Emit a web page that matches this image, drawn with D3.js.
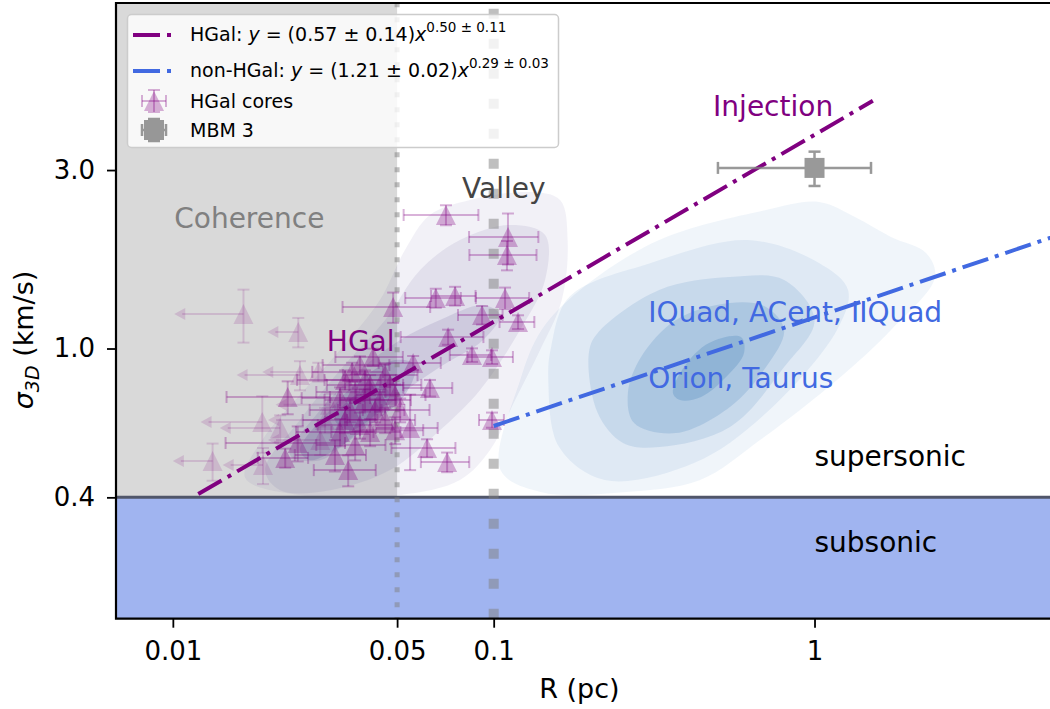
<!DOCTYPE html>
<html>
<head>
<meta charset="utf-8">
<script src="https://cdn.jsdelivr.net/npm/d3@7"></script>
<style>
  html, body { margin: 0; padding: 0; background: #fff; }
  svg { display: block; font-family: "DejaVu Sans", sans-serif; }
  text { white-space: pre; }
</style>
</head>
<body>
<svg id="chart" width="1050" height="709"></svg>
<script>
// ---- axis ticks ----
const xTickValues = [0.01, 0.05, 0.1, 1];
const xTickLabels = ["0.01", "0.05", "0.1", "1"];
const yTickValues = [0.4, 1.0, 3.0];
const yTickLabels = ["0.4", "1.0", "3.0"];

// ---- reference scales (pc, km/s) ----
const coherenceRadius = 0.05;
const valleyRadius = 0.1;
const sonicSigma = 0.4;

// ---- power-law fits: sigma = A (R / R0)^p ; [A, dA, p, dp] ----
const hgalFit = [0.57, 0.14, 0.50, 0.11];
const hgalFitR0 = 0.0234;
const hgalFitRange = [0.012, 1.52];
const nonHgalFit = [1.21, 0.02, 0.29, 0.03];
const nonHgalFitR0 = 1;
const nonHgalFitRange = [0.1, 6];

// ---- HGal cores: [R (pc), dR, sigma (km/s), dSigma, R is upper limit] ----
const hgalCores = [
  [0.0166, 0.0065, 1.237, 0.20, 1],
  [0.0246, 0.0049, 1.107, 0.10, 1],
  [0.0249, 0.0091, 0.849, 0.076, 1],
  [0.0284, 0.0094, 0.866, 0.05, 1],
  [0.0228, 0.0081, 0.742, 0.075, 0],
  [0.0190, 0.0068, 0.636, 0.11, 1],
  [0.0216, 0.0076, 0.613, 0.05, 1],
  [0.0133, 0.0033, 0.500, 0.057, 1],
  [0.0191, 0.0048, 0.488, 0.054, 1],
  [0.0245, 0.0099, 0.559, 0.06, 0],
  [0.0224, 0.0040, 0.510, 0.03, 0],
  [0.0352, 0.0077, 0.473, 0.045, 0],
  [0.0710, 0.0186, 2.275, 0.14, 0],
  [0.1108, 0.0270, 1.987, 0.31, 0],
  [0.1100, 0.0260, 1.778, 0.16, 0],
  [0.0660, 0.0130, 1.365, 0.08, 0],
  [0.0758, 0.0120, 1.382, 0.08, 0],
  [0.1085, 0.0205, 1.365, 0.09, 0],
  [0.0486, 0.0148, 1.291, 0.12, 0],
  [0.0920, 0.0146, 1.229, 0.07, 0],
  [0.1191, 0.0148, 1.177, 0.05, 0],
  [0.0721, 0.0208, 1.073, 0.05, 0],
  [0.0856, 0.0126, 0.961, 0.04, 0],
  [0.0988, 0.0160, 0.949, 0.04, 0],
  [0.0633, 0.0110, 0.784, 0.04, 0],
  [0.0561, 0.0123, 0.915, 0.04, 0],
  [0.0988, 0.0088, 0.644, 0.03, 0],
  [0.0549, 0.0120, 0.613, 0.14, 0],
  [0.0620, 0.0140, 0.542, 0.03, 0],
  [0.0716, 0.0123, 0.497, 0.03, 0],
  [0.0421, 0.0100, 0.949, 0.05, 0],
  [0.0383, 0.0090, 0.903, 0.05, 0],
  [0.0344, 0.0100, 0.824, 0.05, 0],
  [0.0459, 0.0120, 0.849, 0.06, 0],
  [0.0412, 0.0110, 0.799, 0.05, 0],
  [0.0370, 0.0090, 0.765, 0.05, 0],
  [0.0332, 0.0080, 0.737, 0.05, 0],
  [0.0309, 0.0100, 0.707, 0.05, 1],
  [0.0397, 0.0100, 0.728, 0.05, 0],
  [0.0442, 0.0110, 0.728, 0.05, 0],
  [0.0493, 0.0120, 0.751, 0.05, 0],
  [0.0357, 0.0090, 0.685, 0.05, 0],
  [0.0427, 0.0100, 0.685, 0.05, 0],
  [0.0344, 0.0090, 0.644, 0.05, 0],
  [0.0383, 0.0100, 0.624, 0.05, 0],
  [0.0459, 0.0110, 0.644, 0.05, 0],
  [0.0298, 0.0100, 0.644, 0.05, 1],
  [0.0332, 0.0090, 0.598, 0.05, 0],
  [0.0412, 0.0100, 0.598, 0.05, 0],
  [0.0493, 0.0110, 0.605, 0.05, 0],
  [0.0370, 0.0090, 0.552, 0.05, 0],
  [0.0288, 0.0090, 0.569, 0.05, 1],
  [0.0320, 0.0080, 0.519, 0.05, 0],
  [0.0397, 0.0100, 0.824, 0.05, 0],
  [0.0475, 0.0120, 0.799, 0.05, 0],
  [0.0362, 0.0090, 0.866, 0.05, 0],
  [0.0511, 0.0120, 0.685, 0.05, 0]
];

// ---- MBM 3: [R, dR, sigma, dSigma] ----
const mbm3 = [1.0, 0.5, 3.04, 0.32];

// ---- density contours (outer to inner), vertices [R, sigma] ----
const hgalContours = [
  [[0.0168,0.451],[0.0190,0.569],[0.0249,0.751],[0.0332,0.991],[0.0442,1.348],[0.0529,1.834],[0.0633,2.275],[0.0844,2.495],[0.1298,2.620],[0.161,2.495],[0.170,1.950],[0.163,1.348],[0.1395,0.991],[0.1166,0.728],[0.0974,0.535],[0.0785,0.445],[0.0511,0.406],[0.0249,0.406]],
  [[0.0194,0.473],[0.0249,0.644],[0.0332,0.876],[0.0459,1.192],[0.0590,1.622],[0.0785,1.950],[0.1125,2.139],[0.1446,2.012],[0.1446,1.525],[0.1208,1.121],[0.0907,0.775],[0.0680,0.605],[0.0475,0.473],[0.0309,0.418],[0.0216,0.418]],
  [[0.0232,0.519],[0.0288,0.685],[0.0383,0.876],[0.0511,1.054],[0.0680,1.192],[0.0927,1.307],[0.1046,1.229],[0.0927,1.054],[0.0680,0.892],[0.0511,0.751],[0.0383,0.605],[0.0288,0.503]],
  [[0.0249,0.535],[0.0309,0.685],[0.0383,0.824],[0.0493,0.932],[0.0569,0.903],[0.0529,0.751],[0.0412,0.624],[0.0320,0.535],[0.0268,0.503]],
  [[0.0320,0.644],[0.0370,0.751],[0.0442,0.799],[0.0475,0.751],[0.0427,0.664],[0.0357,0.605]]
];
const hgalContourOpacity = [0.08, 0.10, 0.15, 0.2, 0.24];

const nonHgalContours = [
  [[0.105,0.473],[0.121,0.824],[0.141,1.121],[0.186,1.434],[0.328,1.950],[0.706,2.346],[1.033,2.465],[1.337,2.247],[1.731,1.987],[2.226,1.800],[2.375,1.553],[1.731,1.121],[1.175,0.824],[0.676,0.569],[0.440,0.445],[0.253,0.413],[0.141,0.413]],
  [[0.151,1.009],[0.172,1.373],[0.309,1.693],[0.620,1.950],[1.033,1.693],[1.272,1.434],[1.175,1.121],[0.706,0.672],[0.421,0.494],[0.222,0.445],[0.160,0.545],[0.148,0.824]],
  [[0.198,0.973],[0.211,1.100],[0.328,1.434],[0.545,1.553],[0.804,1.525],[1.0,1.192],[0.804,0.892],[0.545,0.617],[0.328,0.545],[0.253,0.559],[0.211,0.672]],
  [[0.262,0.760],[0.288,0.949],[0.370,1.192],[0.545,1.323],[0.706,1.291],[0.804,1.121],[0.706,0.892],[0.545,0.698],[0.370,0.594],[0.274,0.632]],
  [[0.362,0.760],[0.392,0.892],[0.469,1.034],[0.590,1.073],[0.603,0.973],[0.530,0.839],[0.443,0.742],[0.381,0.728]]
];
const nonHgalContourOpacity = [0.075, 0.09, 0.14, 0.19, 0.25];

// ---- annotation labels: [text, R, sigma, colour] ----
const annotations = [
  ["Coherence", 0.0101, 2.10, "#808080"],
  ["Valley", 0.0797, 2.53, "#444444"],
  ["Injection", 0.483, 4.18, "#800080"],
  ["HGal", 0.0302, 0.985, "#800080"],
  ["IQuad, ACent, IIQuad", 0.303, 1.177, "#4169e1"],
  ["Orion, Taurus", 0.303, 0.784, "#4169e1"],
  ["supersonic", 1.0, 0.485, "#000000"],
  ["subsonic", 1.0, 0.286, "#000000"]
];

// ================= drawing =================
const PURPLE = "#800080", BLUE = "#4169e1";
const plot = { left: 116, right: 1062, top: 3, bottom: 618.7 };

const x = d3.scaleLog().domain([0.00665, 5.907]).range([plot.left, plot.right]);
const y = d3.scaleLog().domain([0.1895, 8.39]).range([plot.bottom, plot.top]);

const svg = d3.select("#chart");
svg.append("defs").append("clipPath").attr("id", "plotClip")
  .append("rect")
  .attr("x", plot.left).attr("y", plot.top)
  .attr("width", plot.right - plot.left).attr("height", plot.bottom - plot.top);

const g = svg.append("g").attr("clip-path", "url(#plotClip)");

// coherence zone
g.append("rect")
  .attr("x", plot.left).attr("y", plot.top)
  .attr("width", x(coherenceRadius) - plot.left)
  .attr("height", y(sonicSigma) - plot.top)
  .attr("fill", "#808080").attr("fill-opacity", 0.3);

// density contours
const contourLine = d3.line()
  .x(d => x(d[0])).y(d => y(d[1]))
  .curve(d3.curveCatmullRomClosed.alpha(0.5));

g.append("g").selectAll("path").data(hgalContours).join("path")
  .attr("d", contourLine)
  .attr("fill", "#5c5096")
  .attr("fill-opacity", (d, i) => hgalContourOpacity[i]);

g.append("g").selectAll("path").data(nonHgalContours).join("path")
  .attr("d", contourLine)
  .attr("fill", "#3a7ab8")
  .attr("fill-opacity", (d, i) => nonHgalContourOpacity[i]);

// subsonic band
g.append("rect")
  .attr("x", plot.left).attr("y", y(sonicSigma))
  .attr("width", plot.right - plot.left)
  .attr("height", plot.bottom - y(sonicSigma))
  .attr("fill", BLUE).attr("fill-opacity", 0.5);

// sonic line
g.append("line")
  .attr("x1", plot.left).attr("x2", plot.right)
  .attr("y1", y(sonicSigma)).attr("y2", y(sonicSigma))
  .attr("stroke", "#50566a").attr("stroke-width", 3);

// coherence (dotted) and valley (thick dotted) radii
g.append("line")
  .attr("x1", x(coherenceRadius)).attr("x2", x(coherenceRadius))
  .attr("y1", plot.bottom + 3.5).attr("y2", plot.top)
  .attr("stroke", "#808080").attr("stroke-opacity", 0.5)
  .attr("stroke-width", 5).attr("stroke-dasharray", "5 10");

g.append("line")
  .attr("x1", x(valleyRadius)).attr("x2", x(valleyRadius))
  .attr("y1", plot.bottom).attr("y2", plot.top)
  .attr("stroke", "#808080").attr("stroke-opacity", 0.5)
  .attr("stroke-width", 10).attr("stroke-dasharray", "10 20");

// HGal cores with error bars
const MS = 10, CAP = 6;
const triPath = (cx, cy) => `M${cx},${cy - MS}L${cx + MS},${cy + MS}L${cx - MS},${cy + MS}Z`;

const coresG = g.append("g");
hgalCores.forEach(([R, dR, s, ds, ul]) => {
  const op = ul ? 0.15 : 0.3;
  const cx = x(R), cy = y(s);
  const c = coresG.append("g");
  const stroke = el => el.attr("stroke", PURPLE).attr("stroke-opacity", op).attr("stroke-width", 2).attr("fill", "none");
  // vertical bar with caps
  const yt = y(s + ds), yb = y(s - ds);
  stroke(c.append("line").attr("x1", cx).attr("x2", cx).attr("y1", yt).attr("y2", yb));
  stroke(c.append("line").attr("x1", cx - CAP).attr("x2", cx + CAP).attr("y1", yt).attr("y2", yt));
  stroke(c.append("line").attr("x1", cx - CAP).attr("x2", cx + CAP).attr("y1", yb).attr("y2", yb));
  if (ul) {
    const xl = x(R - dR);
    stroke(c.append("line").attr("x1", cx).attr("x2", xl + 8).attr("y1", cy).attr("y2", cy));
    c.append("path")
      .attr("d", `M${xl},${cy}L${xl + 11},${cy - 6}L${xl + 11},${cy + 6}Z`)
      .attr("fill", PURPLE).attr("fill-opacity", op);
  } else {
    const xl = x(R - dR), xr = x(R + dR);
    stroke(c.append("line").attr("x1", xl).attr("x2", xr).attr("y1", cy).attr("y2", cy));
    stroke(c.append("line").attr("x1", xl).attr("x2", xl).attr("y1", cy - CAP).attr("y2", cy + CAP));
    stroke(c.append("line").attr("x1", xr).attr("x2", xr).attr("y1", cy - CAP).attr("y2", cy + CAP));
  }
  c.append("path").attr("d", triPath(cx, cy))
    .attr("fill", PURPLE).attr("fill-opacity", op);
});

// power-law fit lines
const fitLine = d3.line().x(d => x(d[0])).y(d => y(d[1]));
function fitPoints(fit, r0, range) {
  return range.map(R => [R, fit[0] * Math.pow(R / r0, fit[2])]);
}
const DASHDOT = "27 7 4 7";
g.append("path").attr("d", fitLine(fitPoints(hgalFit, hgalFitR0, hgalFitRange)))
  .attr("fill", "none").attr("stroke", PURPLE).attr("stroke-width", 4)
  .attr("stroke-dasharray", DASHDOT);
g.append("path").attr("d", fitLine(fitPoints(nonHgalFit, nonHgalFitR0, nonHgalFitRange)))
  .attr("fill", "none").attr("stroke", BLUE).attr("stroke-width", 4)
  .attr("stroke-dasharray", DASHDOT);

// MBM 3
function drawSquareMarker(parent, cx, cy, xl, xr, yt, yb) {
  const m = parent.append("g").attr("opacity", 0.8);
  const st = el => el.attr("stroke", "#808080").attr("stroke-width", 2.5);
  st(m.append("line").attr("x1", xl).attr("x2", xr).attr("y1", cy).attr("y2", cy));
  st(m.append("line").attr("x1", xl).attr("x2", xl).attr("y1", cy - CAP).attr("y2", cy + CAP));
  st(m.append("line").attr("x1", xr).attr("x2", xr).attr("y1", cy - CAP).attr("y2", cy + CAP));
  st(m.append("line").attr("x1", cx).attr("x2", cx).attr("y1", yt).attr("y2", yb));
  st(m.append("line").attr("x1", cx - CAP).attr("x2", cx + CAP).attr("y1", yt).attr("y2", yt));
  st(m.append("line").attr("x1", cx - CAP).attr("x2", cx + CAP).attr("y1", yb).attr("y2", yb));
  m.append("rect").attr("x", cx - 10).attr("y", cy - 10).attr("width", 20).attr("height", 20)
    .attr("fill", "#808080");
}
drawSquareMarker(g, x(mbm3[0]), y(mbm3[2]),
  x(mbm3[0] - mbm3[1]), x(mbm3[0] + mbm3[1]),
  y(mbm3[2] + mbm3[3]), y(mbm3[2] - mbm3[3]));

// annotations
g.append("g").selectAll("text").data(annotations).join("text")
  .attr("x", d => x(d[1])).attr("y", d => y(d[2]))
  .attr("fill", d => d[3]).attr("font-size", 28)
  .text(d => d[0]);

// ---- spines & axes ----
const axisFont = 26;
const xAxis = svg.append("g").attr("transform", `translate(0,${plot.bottom})`)
  .call(d3.axisBottom(x).tickValues(xTickValues)
    .tickFormat((d, i) => xTickLabels[i]).tickSize(9).tickPadding(14));
const yAxis = svg.append("g").attr("transform", `translate(${plot.left},0)`)
  .call(d3.axisLeft(y).tickValues(yTickValues)
    .tickFormat((d, i) => yTickLabels[i]).tickSize(9).tickPadding(12));
[xAxis, yAxis].forEach(a => {
  a.select(".domain").remove();
  a.selectAll(".tick line").attr("stroke", "#000").attr("stroke-width", 1.8);
  a.selectAll(".tick text").attr("font-size", axisFont)
    .attr("font-family", "DejaVu Sans").attr("fill", "#000");
});

svg.append("path")
  .attr("d", `M${plot.right},${plot.top}H${plot.left}V${plot.bottom}H${plot.right}`)
  .attr("fill", "none").attr("stroke", "#000").attr("stroke-width", 2.2);

svg.append("text")
  .attr("x", (x(0.0076) + x(4.5)) / 2).attr("y", 698)
  .attr("text-anchor", "middle").attr("font-size", 27)
  .text("R (pc)");

const yl = svg.append("text")
  .attr("transform", "translate(33,340) rotate(-90)")
  .attr("text-anchor", "middle").attr("font-size", 27);
yl.append("tspan").attr("font-style", "italic").text("σ");
yl.append("tspan").attr("font-style", "italic").attr("font-size", 19).attr("dy", 6).text("3D");
yl.append("tspan").attr("dy", -6).text(" (km/s)");

// ---- legend ----
const lg = svg.append("g");
lg.append("rect")
  .attr("x", 127.5).attr("y", 14.5).attr("width", 431).attr("height", 133).attr("rx", 4)
  .attr("fill", "#ffffff").attr("fill-opacity", 0.8)
  .attr("stroke", "#cccccc").attr("stroke-width", 1.5);

const legendFont = 19;
function fitLegend(yLine, yText, name, fit, colour) {
  lg.append("line").attr("x1", 133).attr("x2", 173).attr("y1", yLine).attr("y2", yLine)
    .attr("stroke", colour).attr("stroke-width", 4).attr("stroke-dasharray", DASHDOT);
  const t = lg.append("text").attr("x", 190).attr("y", yText).attr("font-size", legendFont);
  t.append("tspan").text(name + ": ");
  t.append("tspan").attr("font-style", "italic").text("y");
  t.append("tspan").text(` = (${fit[0].toFixed(2)} ± ${fit[1].toFixed(2)})`);
  t.append("tspan").attr("font-style", "italic").text("x");
  t.append("tspan").attr("font-size", 13.5).attr("dy", -9)
    .text(`${fit[2].toFixed(2)} ± ${fit[3].toFixed(2)}`);
}
fitLegend(35, 41, "HGal", hgalFit, PURPLE);
fitLegend(71, 77, "non-HGal", nonHgalFit, BLUE);

// legend marker: HGal core
{
  const cx = 154, cy = 101;
  const c = lg.append("g");
  const st = el => el.attr("stroke", PURPLE).attr("stroke-opacity", 0.3).attr("stroke-width", 2);
  st(c.append("line").attr("x1", cx - 12).attr("x2", cx + 12).attr("y1", cy).attr("y2", cy));
  st(c.append("line").attr("x1", cx - 12).attr("x2", cx - 12).attr("y1", cy - CAP).attr("y2", cy + CAP));
  st(c.append("line").attr("x1", cx + 12).attr("x2", cx + 12).attr("y1", cy - CAP).attr("y2", cy + CAP));
  st(c.append("line").attr("x1", cx).attr("x2", cx).attr("y1", cy - 11).attr("y2", cy + 11));
  st(c.append("line").attr("x1", cx - CAP).attr("x2", cx + CAP).attr("y1", cy - 11).attr("y2", cy - 11));
  st(c.append("line").attr("x1", cx - CAP).attr("x2", cx + CAP).attr("y1", cy + 11).attr("y2", cy + 11));
  c.append("path").attr("d", triPath(cx, cy)).attr("fill", PURPLE).attr("fill-opacity", 0.3);
  lg.append("text").attr("x", 190).attr("y", 108).attr("font-size", legendFont).text("HGal cores");
}
// legend marker: MBM 3
drawSquareMarker(lg, 154, 130, 142, 166, 119, 141);
lg.append("text").attr("x", 190).attr("y", 137).attr("font-size", legendFont).text("MBM 3");
</script>
</body>
</html>
